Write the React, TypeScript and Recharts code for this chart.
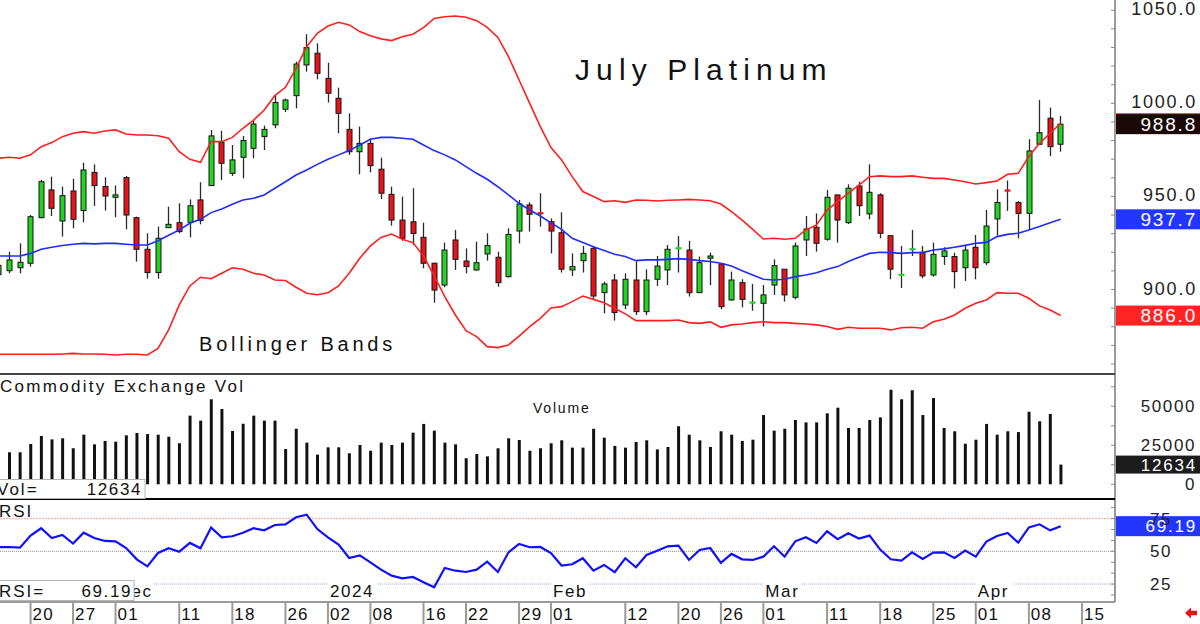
import { Bar, ComposedChart, Line, ReferenceLine, XAxis, YAxis } from 'recharts';

const FONT = "'Liberation Sans', Arial, Helvetica, sans-serif";
const GREEN = '#22d322';
const RED = '#e8141a';
const BAND_RED = '#ff1f1f';
const BAND_BLUE = '#1f2bff';
const AXIS_GRAY = '#9a9a9a';
const INK = '#111';

// one value per session, 15 Nov 2023 .. 11 Apr 2024 (index = session number)
const opens = [
  908.0, 910.1, 911.7, 914.1, 938.6, 953.5, 936.8, 952.9, 942.4, 962.9,
  955.3, 949.5, 960.1, 938.6, 921.6, 909.1, 933.2, 935.9, 936.1, 948.1,
  955.8, 979.1, 962.4, 971.0, 975.8, 982.1, 988.4, 996.8, 1004.1, 1020.6,
  1026.9, 1013.4, 1002.7, 986.0, 974.0, 978.5, 964.6, 951.1, 937.3, 936.4,
  928.0, 914.1, 902.4, 926.6, 915.3, 910.5, 919.1, 917.3, 906.9, 931.4,
  945.4, 941.0, 936.4, 930.5, 910.5, 915.5, 922.1, 898.3, 905.1, 891.7,
  905.1, 888.1, 905.5, 910.5, 922.0, 921.2, 898.3, 916.8, 913.7, 894.4,
  903.7, 892.8, 892.6, 902.4, 910.9, 895.8, 926.6, 933.4, 927.0, 950.8,
  935.9, 955.6, 940.6, 950.8, 928.9, 907.7, 921.5, 920.0, 907.8, 917.7,
  917.7, 911.7, 922.7, 914.4, 937.9, 953.2, 946.7, 940.9, 978.0, 992.0,
  978.0,
];
const highs = [
  915.0, 920.3, 924.8, 940.0, 958.8, 960.6, 955.3, 959.4, 968.1, 967.2,
  960.3, 955.9, 961.0, 939.1, 930.2, 933.8, 944.5, 946.3, 948.4, 957.6,
  985.7, 985.3, 977.6, 982.5, 991.0, 988.0, 1004.5, 1002.5, 1022.4, 1037.1,
  1032.2, 1021.8, 1008.4, 994.6, 987.5, 981.2, 970.8, 955.2, 949.9, 954.4,
  935.9, 914.4, 925.2, 932.0, 922.1, 925.7, 930.2, 920.3, 932.9, 948.1,
  946.8, 951.7, 938.2, 941.5, 919.4, 923.4, 923.0, 904.2, 908.3, 908.7,
  915.0, 910.8, 918.0, 923.9, 928.7, 926.2, 917.7, 919.8, 914.1, 909.6,
  905.5, 903.0, 902.4, 916.2, 910.9, 925.2, 939.5, 940.9, 953.5, 950.8,
  956.5, 957.9, 967.2, 951.7, 928.9, 923.4, 932.0, 923.4, 925.2, 922.7,
  919.8, 923.9, 929.3, 942.7, 953.8, 958.5, 947.5, 980.7, 1001.8, 997.7,
  993.2,
];
const lows = [
  905.5, 908.7, 908.7, 912.3, 938.2, 939.5, 928.4, 932.9, 936.1, 944.9,
  942.4, 938.8, 932.3, 915.0, 905.8, 905.8, 933.2, 930.2, 928.0, 935.0,
  955.8, 958.8, 961.0, 959.7, 970.5, 974.9, 986.6, 995.3, 997.3, 1017.0,
  1012.9, 1000.4, 983.9, 972.3, 961.9, 962.9, 948.6, 934.3, 926.2, 923.9,
  911.4, 892.9, 901.2, 910.5, 908.7, 910.1, 915.5, 901.5, 906.4, 924.8,
  931.1, 933.8, 919.4, 909.1, 907.3, 909.1, 894.7, 887.2, 883.3, 889.4,
  886.3, 886.3, 901.9, 902.4, 909.1, 896.2, 898.3, 902.4, 889.4, 894.0,
  890.4, 888.6, 880.1, 897.1, 893.5, 894.7, 918.0, 920.3, 926.2, 925.2,
  935.2, 939.5, 937.7, 927.5, 905.5, 900.8, 918.0, 906.0, 906.9, 913.2,
  900.6, 904.6, 905.5, 913.2, 928.9, 942.2, 927.5, 932.0, 977.6, 971.7,
  974.0,
];
const closes = [
  913.0, 915.9, 914.6, 939.1, 957.9, 943.6, 950.4, 937.7, 964.2, 955.8,
  950.2, 950.8, 940.0, 921.6, 909.1, 927.5, 935.0, 931.1, 945.0, 937.0,
  982.5, 967.8, 969.6, 980.0, 988.9, 986.0, 1000.4, 1001.8, 1021.1, 1029.9,
  1016.1, 1005.4, 994.6, 974.0, 978.5, 966.5, 951.7, 937.3, 927.5, 930.1,
  914.1, 899.7, 921.2, 916.2, 912.3, 914.4, 923.6, 903.7, 929.6, 945.9,
  940.4, 940.8, 931.4, 910.9, 912.3, 919.4, 896.5, 903.0, 887.6, 905.5,
  888.1, 905.1, 912.6, 921.6, 922.2, 898.3, 914.4, 918.0, 890.8, 905.1,
  894.7, 893.0, 897.1, 912.8, 897.1, 923.4, 932.5, 924.8, 949.5, 937.3,
  954.4, 945.0, 952.2, 930.2, 910.9, 907.9, 921.7, 907.3, 918.9, 920.7,
  909.6, 921.2, 911.7, 934.1, 946.7, 953.0, 940.9, 974.4, 984.2, 976.7,
  988.8,
];
const upperBand = [
  970.5, 971.0, 970.5, 972.3, 976.7, 978.9, 982.1, 983.9, 984.8, 983.9,
  985.1, 985.7, 983.5, 983.0, 983.0, 982.6, 981.2, 974.0, 969.9, 968.3,
  979.4, 979.4, 981.7, 986.6, 991.0, 996.4, 1004.1, 1008.6, 1018.8, 1030.4,
  1037.6, 1041.5, 1043.5, 1042.1, 1038.5, 1036.3, 1034.6, 1033.7, 1035.8, 1037.1,
  1040.6, 1045.6, 1046.5, 1046.9, 1046.2, 1044.4, 1040.8, 1035.4, 1025.1, 1012.5,
  1000.0, 987.5, 976.2, 969.6, 960.6, 952.6, 949.9, 947.2, 947.7, 946.8,
  948.1, 947.9, 947.5, 947.9, 948.1, 948.4, 948.1, 947.7, 945.9, 941.8,
  937.3, 932.3, 927.1, 927.5, 927.0, 927.5, 932.0, 934.7, 942.7, 947.2,
  951.7, 956.1, 960.6, 961.0, 960.6, 960.6, 961.0, 960.3, 959.7, 959.7,
  958.8, 957.9, 956.7, 957.4, 958.3, 961.9, 962.4, 971.4, 978.5, 983.9,
  989.3,
];
const midBand = [
  918.0, 918.0, 918.0, 919.4, 921.6, 922.7, 923.6, 924.3, 924.8, 924.5,
  924.8, 924.8, 924.3, 923.9, 923.9, 926.2, 929.1, 932.0, 935.6, 937.7,
  941.3, 943.3, 945.8, 948.1, 949.0, 950.8, 954.4, 957.9, 961.5, 964.2,
  967.2, 969.9, 972.3, 974.6, 977.6, 980.7, 981.7, 981.7, 981.2, 980.7,
  977.6, 974.6, 972.3, 969.6, 966.0, 962.4, 959.2, 955.2, 950.8, 946.3,
  942.7, 939.5, 935.8, 932.3, 927.5, 925.2, 923.0, 920.9, 918.9, 917.7,
  915.5, 915.9, 915.9, 916.2, 916.6, 916.2, 915.5, 915.0, 914.1, 912.6,
  910.1, 907.8, 905.5, 905.1, 905.5, 906.9, 907.8, 909.0, 910.9, 912.3,
  915.0, 917.3, 919.4, 920.0, 919.8, 919.4, 919.8, 919.8, 921.2, 921.8,
  922.7, 923.7, 924.8, 925.3, 928.4, 929.6, 930.2, 932.0, 933.8, 935.9,
  937.7,
];
const lowerBand = [
  865.2, 865.2, 865.2, 865.2, 865.2, 865.2, 865.4, 865.7, 865.4, 865.4,
  865.2, 864.8, 865.2, 865.2, 864.8, 868.4, 878.3, 891.7, 901.9, 906.6,
  905.8, 908.7, 911.7, 910.9, 908.7, 907.8, 905.1, 904.8, 901.2, 898.0,
  897.2, 898.3, 901.9, 908.7, 916.8, 923.4, 928.0, 929.8, 927.0, 925.2,
  918.0, 907.3, 896.2, 886.3, 877.9, 874.7, 869.3, 868.8, 870.2, 875.0,
  880.1, 884.5, 890.1, 890.8, 893.5, 896.5, 894.7, 892.9, 889.9, 886.9,
  883.3, 883.3, 883.3, 883.3, 883.6, 882.2, 881.8, 882.6, 879.7, 881.0,
  881.5, 882.2, 882.7, 882.2, 882.2, 881.8, 881.5, 881.0, 880.1, 878.6,
  879.7, 879.2, 879.2, 879.2, 878.3, 879.5, 879.7, 879.2, 882.7, 884.0,
  886.3, 889.9, 892.6, 894.4, 898.3, 898.0, 898.0, 895.3, 891.2, 889.0,
  886.0,
];
const volumes = [
  null, 20500, 20500, 25800, 31000, 28800, 29500, 23100, 31800, 25600,
  27800, 27300, 31400, 32900, 32200, 31800, 30500, 26300, 44000, 40800,
  54500, 48300, 34200, 38800, 44000, 40800, 40800, 22600, 35600, 26700,
  19000, 23700, 23700, 19900, 25200, 21500, 26700, 25200, 26700, 33100,
  38700, 34400, 26700, 25600, 16700, 19400, 17900, 23100, 29500, 28400,
  21500, 23100, 26300, 28200, 23500, 23500, 35600, 29900, 24600, 23500,
  27100, 28200, 22400, 23900, 37200, 31800, 28200, 23900, 34000, 31800,
  27800, 28600, 44400, 34400, 35600, 41200, 39700, 39700, 45500, 49100,
  36100, 36100, 41200, 42900, 60600, 54500, 60300, 44400, 55300, 36100,
  34000, 26000, 28600, 38700, 31800, 34000, 33500, 46500, 40400, 45100,
  12634,
];
const rsiValues = [
  53.1, 53.3, 52.8, 62.0, 67.6, 60.2, 62.5, 55.9, 64.2, 60.2,
  57.9, 57.6, 52.5, 43.9, 38.5, 48.7, 52.3, 49.7, 56.4, 52.3,
  68.1, 60.7, 61.5, 64.2, 67.6, 66.0, 70.1, 70.6, 76.0, 78.0,
  67.0, 60.7, 55.1, 44.9, 46.9, 41.6, 36.0, 31.4, 29.4, 30.4,
  26.3, 22.5, 37.3, 35.2, 34.2, 36.0, 42.1, 34.2, 49.2, 55.6,
  53.1, 53.3, 48.6, 39.1, 40.1, 44.7, 35.2, 39.6, 34.0, 44.7,
  37.8, 47.2, 50.5, 53.8, 54.3, 43.4, 51.0, 52.5, 41.1, 48.0,
  43.9, 43.4, 45.9, 53.8, 45.9, 57.6, 60.7, 56.4, 65.3, 59.2,
  63.7, 59.7, 62.0, 51.3, 43.9, 42.9, 49.2, 44.1, 49.0, 49.2,
  44.9, 50.5, 45.9, 57.4, 61.7, 64.0, 56.6, 68.3, 70.6, 66.0,
  69.19,
];

// date axis: session index of each labelled day
const dateTicks = [3, 7, 11, 17, 22, 27, 31, 35, 40, 44, 49, 52, 59, 64, 68, 72, 78, 83, 88, 92, 97, 102];
const dateLabels = ['20', '27', '01', '11', '18', '26', '02', '08', '16', '22', '29', '01', '12', '20', '26', '01', '11', '18', '25', '01', '08', '15'];
const monthTicks = [11, 31, 52, 72, 92];
const monthLabels = ['Dec', '2024', 'Feb', 'Mar', 'Apr'];

const priceTicks = [860, 870, 880, 890, 900, 910, 920, 930, 940, 950, 960, 970, 980, 990, 1000, 1010, 1020, 1030, 1040, 1050];
const volumeTicks = [0, 12500, 25000, 37500, 50000, 62500];
const rsiTicks = [16.67, 25, 33.33, 41.67, 50, 58.33, 66.67, 75, 83.33];

const X_DOMAIN = [0.122, 105.11];

const data = opens.map((open, i) => ({
  i,
  open,
  high: highs[i],
  low: lows[i],
  close: closes[i],
  range: [lows[i], highs[i]],
  upper: upperBand[i],
  mid: midBand[i],
  lower: lowerBand[i],
  vol: volumes[i],
  rsi: rsiValues[i],
}));

const last = data.length - 1;

function Candle(props: any) {
  const { x, width, payload } = props;
  let { y, height } = props;
  if (height < 0) {
    y += height;
    height = -height;
  }
  const { open, close, high, low } = payload;
  const k = high > low ? height / (high - low) : 0;
  const cx = Math.round(x + width / 2) + 0.5;
  const yOpen = y + (high - open) * k;
  const yClose = y + (high - close) * k;
  const color = close >= open ? GREEN : RED;
  const top = Math.min(yOpen, yClose);
  const bodyH = Math.abs(yOpen - yClose);
  return (
    <g>
      <line x1={cx} x2={cx} y1={y} y2={y + height} stroke="#2a2a2a" strokeWidth={1.3} />
      {bodyH < 1.5 ? (
        <rect x={cx - 3} y={top - 1} width={6} height={2.2} fill={color} />
      ) : (
        <rect x={cx - 2.5} y={top} width={5} height={bodyH} fill={color} stroke="#151515" strokeWidth={1} />
      )}
    </g>
  );
}

function ValueTag(props: any) {
  const { viewBox, text, fill, h, size } = props;
  const x = viewBox.x + viewBox.width;
  const y = viewBox.y;
  return (
    <g>
      <rect x={x + 1} y={y - h / 2} width={1200 - x - 1} height={h} fill={fill} />
      <text x={1197} y={y + size * 0.36} textAnchor="end" fontSize={size} letterSpacing={1.8} fill="#fff" fontFamily={FONT}>
        {text}
      </text>
    </g>
  );
}

function PriceTick(props: any) {
  const { x, y, payload } = props;
  const v = payload.value;
  return (
    <g>
      <line x1={x - 4} x2={x} y1={y} y2={y} stroke="#8a8a8a" />
      {v % 50 === 0 && (
        <text x={x + 82} y={y + 5} textAnchor="end" fontSize={18} letterSpacing={1.8} fill="#222" fontFamily={FONT}>
          {v.toFixed(1)}
        </text>
      )}
    </g>
  );
}

function VolumeTick(props: any) {
  const { x, y, payload } = props;
  const v = payload.value;
  return (
    <g>
      <line x1={x - 4} x2={x} y1={y} y2={y} stroke="#8a8a8a" />
      {v % 25000 === 0 && (
        <text x={x + 81} y={y + 6} textAnchor="end" fontSize={17} letterSpacing={1.6} fill="#222" fontFamily={FONT}>
          {v}
        </text>
      )}
    </g>
  );
}

function RsiTick(props: any) {
  const { x, y, payload } = props;
  const v = payload.value;
  return (
    <g>
      <line x1={x - 4} x2={x} y1={y} y2={y} stroke="#8a8a8a" />
      {Math.abs(v % 25) < 0.01 && (
        <text x={x + 57} y={y + 6} textAnchor="end" fontSize={17} letterSpacing={1.6} fill="#222" fontFamily={FONT}>
          {v}
        </text>
      )}
    </g>
  );
}

function DateTick(props: any) {
  const { x, y, payload } = props;
  const d = dateTicks.indexOf(payload.value);
  const m = monthTicks.indexOf(payload.value);
  return (
    <g>
      {m >= 0 && (
        <g>
          <rect x={x} y={y - 22} width={monthLabels[m].length * 11.5 + 3} height={20} fill="#fff" />
          <text x={x + 2} y={y - 5.5} fontSize={17} letterSpacing={1.6} fill={INK} fontFamily={FONT}>
            {monthLabels[m]}
          </text>
        </g>
      )}
      <line x1={x} x2={x} y1={y} y2={y + 22} stroke={AXIS_GRAY} strokeWidth={2} />
      <text x={x + 2} y={y + 17.5} fontSize={17} letterSpacing={1.2} fill={INK} fontFamily={FONT}>
        {dateLabels[d]}
      </text>
    </g>
  );
}

const yAxisCommon = {
  orientation: 'right' as const,
  width: 85,
  allowDataOverflow: true,
  interval: 0,
  tickSize: 0,
  tickMargin: 0,
  tickLine: false,
  axisLine: { stroke: AXIS_GRAY, strokeWidth: 2 },
};

export default function App() {
  return (
    <div style={{ position: 'absolute', left: 0, top: 0, width: 1200, height: 624, background: '#fff', overflow: 'hidden' }}>
      <div style={{ position: 'absolute', left: 0, top: 0 }}>
        <ComposedChart width={1200} height={373} data={data} margin={{ top: 0, right: 0, bottom: 0, left: 0 }}>
          <XAxis dataKey="i" type="number" domain={X_DOMAIN} allowDataOverflow hide />
          <YAxis {...yAxisCommon} domain={[855.16, 1055.48]} ticks={priceTicks} tick={<PriceTick />} />
          <Line dataKey="upper" type="linear" stroke={BAND_RED} strokeWidth={1.6} dot={false} activeDot={false} isAnimationActive={false} />
          <Line dataKey="lower" type="linear" stroke={BAND_RED} strokeWidth={1.6} dot={false} activeDot={false} isAnimationActive={false} />
          <Line dataKey="mid" type="linear" stroke={BAND_BLUE} strokeWidth={1.6} dot={false} activeDot={false} isAnimationActive={false} />
          <Bar dataKey="range" barSize={6} shape={<Candle />} isAnimationActive={false} />
          <ReferenceLine y={upperBand[last]} stroke="none" label={<ValueTag text="" fill={BAND_RED} h={20} size={19} />} />
          <ReferenceLine y={closes[last]} stroke="none" label={<ValueTag text={closes[last].toFixed(1)} fill="#1c0808" h={20} size={19} />} />
          <ReferenceLine y={midBand[last]} stroke="none" label={<ValueTag text={midBand[last].toFixed(1)} fill="#2236ff" h={20} size={19} />} />
          <ReferenceLine y={lowerBand[last]} stroke="none" label={<ValueTag text={lowerBand[last].toFixed(1)} fill="#ff2424" h={20} size={19} />} />
        </ComposedChart>
      </div>

      <div style={{ position: 'absolute', left: 0, top: 373 }}>
        <ComposedChart width={1200} height={127} data={data} margin={{ top: 0, right: 0, bottom: 0, left: 0 }}>
          <XAxis dataKey="i" type="number" domain={X_DOMAIN} allowDataOverflow hide />
          <YAxis {...yAxisCommon} domain={[-10064, 71343]} ticks={volumeTicks} tick={<VolumeTick />} />
          <Bar dataKey="vol" barSize={3} fill="#111" isAnimationActive={false} />
          <ReferenceLine y={volumes[last] as number} stroke="none" label={<ValueTag text={String(volumes[last])} fill="#1c1c1c" h={18} size={17} />} />
        </ComposedChart>
      </div>

      <div style={{ position: 'absolute', left: 0, top: 500 }}>
        <ComposedChart width={1200} height={124} data={data} margin={{ top: 0, right: 0, bottom: 0, left: 0 }}>
          <YAxis {...yAxisCommon} domain={[11.3, 89.16]} ticks={rsiTicks} tick={<RsiTick />} />
          <ReferenceLine y={75} stroke="#ffb4b4" strokeWidth={1.5} strokeDasharray="2 1" />
          <ReferenceLine y={50} stroke="#8c8c8c" strokeWidth={1} strokeDasharray="1 1" />
          <ReferenceLine y={25} stroke="#9ea6ff" strokeWidth={1} strokeDasharray="1 1" />
          <XAxis
            dataKey="i"
            type="number"
            domain={X_DOMAIN}
            allowDataOverflow
            height={22}
            ticks={dateTicks}
            interval={0}
            tickSize={0}
            tickMargin={0}
            tickLine={false}
            axisLine={{ stroke: AXIS_GRAY, strokeWidth: 2 }}
            tick={<DateTick />}
          />
          <Line dataKey="rsi" type="linear" stroke="#1010ff" strokeWidth={2.2} dot={false} activeDot={false} isAnimationActive={false} />
          <ReferenceLine y={rsiValues[last]} stroke="none" label={<ValueTag text={rsiValues[last].toFixed(2)} fill="#2236ff" h={20} size={17} />} />
        </ComposedChart>
      </div>

      <div style={{ position: 'absolute', left: 0, top: 373, width: 1115, height: 2, background: '#444' }} />
      <div style={{ position: 'absolute', left: 0, top: 498, width: 1115, height: 2, background: '#000' }} />

      <svg width={1200} height={624} style={{ position: 'absolute', left: 0, top: 0, pointerEvents: 'none' }} fontFamily={FONT}>
        <text x={575} y={80} fontSize={30} letterSpacing={6.1} fill={INK}>July Platinum</text>
        <text x={199} y={350.5} fontSize={20} letterSpacing={3.8} fill={INK}>Bollinger Bands</text>
        <text x={0} y={392} fontSize={17} letterSpacing={2.3} fill={INK}>Commodity Exchange Vol</text>
        <text x={533} y={413} fontSize={14} letterSpacing={1.8} fill={INK}>Volume</text>
        <rect x={-1} y={479.5} width={146} height={19} fill="#fff" stroke="#b4b4b4" />
        <text x={-3} y={494.5} fontSize={17} letterSpacing={2} fill={INK}>Vol=</text>
        <text x={142} y={494.5} textAnchor="end" fontSize={17} letterSpacing={1.6} fill={INK}>{volumes[last]}</text>
        <text x={-1} y={517} fontSize={17} letterSpacing={2} fill={INK}>RSI</text>
        <rect x={-1} y={580.5} width={135} height={20} fill="#fff" stroke="#b4b4b4" />
        <text x={-1} y={597} fontSize={17} letterSpacing={2} fill={INK}>RSI=</text>
        <text x={132} y={597} textAnchor="end" fontSize={17} letterSpacing={1.6} fill={INK}>{rsiValues[last].toFixed(2)}</text>
        <polygon points="1185,613 1191,607.5 1191,610.8 1197,610.8 1197,615.2 1191,615.2 1191,618.5" fill="#e81010" />
      </svg>
    </div>
  );
}
